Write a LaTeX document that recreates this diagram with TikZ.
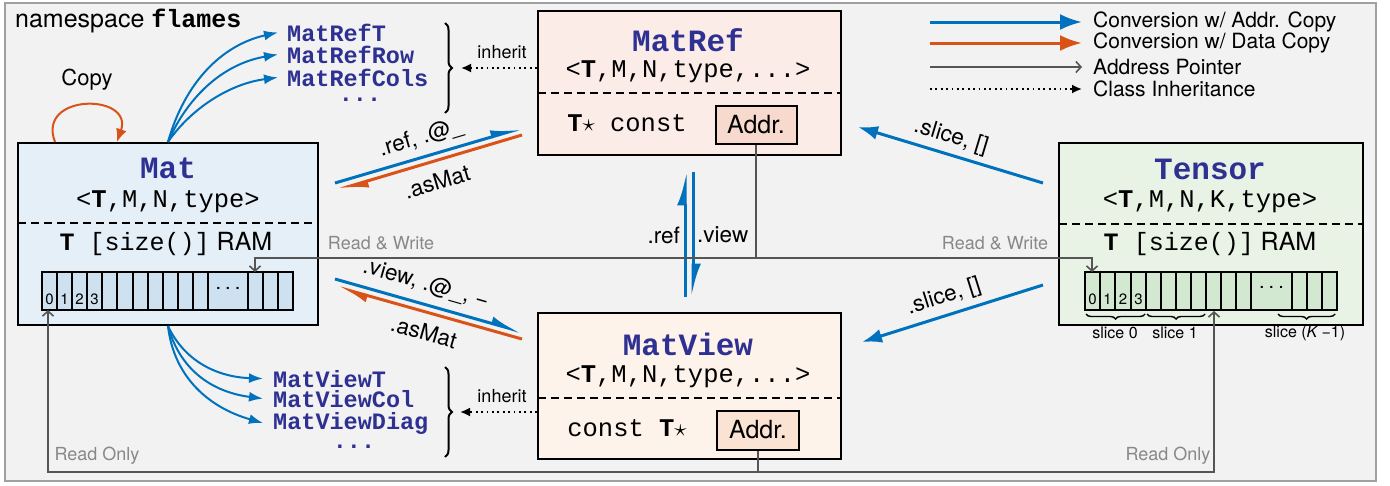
\documentclass[tikz,border=0pt]{standalone}
\usepackage{fontspec}
\setmainfont{TeX Gyre Heros}
\setmonofont{Liberation Mono}
\usetikzlibrary{arrows.meta,decorations.pathreplacing}
\definecolor{cblue}{RGB}{0,114,189}
\definecolor{corange}{RGB}{217,83,25}
\definecolor{cname}{RGB}{46,49,146}
\definecolor{cline}{RGB}{85,85,85}
\definecolor{cgtext}{RGB}{136,136,136}
\definecolor{cbg}{RGB}{242,242,242}
\definecolor{cframe}{RGB}{160,160,160}
\definecolor{matfill}{RGB}{228,239,248}
\definecolor{matcell}{RGB}{205,225,240}
\definecolor{reffill}{RGB}{251,236,232}
\definecolor{refaddr}{RGB}{247,218,205}
\definecolor{viewfill}{RGB}{253,243,234}
\definecolor{viewaddr}{RGB}{251,227,211}
\definecolor{tenfill}{RGB}{232,242,229}
\definecolor{tencell}{RGB}{210,232,208}
\begin{document}
\begin{tikzpicture}[x=1pt,y=-1pt,
  classbox/.style={draw=black, line width=2.2pt, inner sep=0pt, rectangle},
  addrbox/.style={draw=black, line width=2pt, inner sep=0pt, rectangle, font=\fontsize{25}{25}\selectfont},
  ttl/.style={font=\fontsize{31}{31}\selectfont\ttfamily\bfseries, text=cname, inner sep=0pt},
  tmpl/.style={font=\fontsize{25.5}{25.5}\selectfont\ttfamily, inner sep=0pt},
  body/.style={font=\fontsize{25}{25}\selectfont, inner sep=0pt},
  cls/.style={font=\fontsize{23.5}{23.5}\selectfont\ttfamily\bfseries, text=cname, inner sep=0pt},
  convlbl/.style={font=\fontsize{22.5}{22.5}\selectfont, inner sep=0pt},
  leg/.style={font=\fontsize{21}{21}\selectfont, anchor=west, inner sep=0pt},
  graylbl/.style={font=\fontsize{18}{18}\selectfont, text=cgtext, inner sep=0pt},
  smalllbl/.style={font=\fontsize{18}{18}\selectfont, inner sep=0pt},
  slicelbl/.style={font=\fontsize{16}{16}\selectfont, inner sep=0pt},
  digit/.style={font=\fontsize{15}{15}\selectfont, inner sep=0pt},
  celldots/.style={font=\fontsize{20}{20}\selectfont, inner sep=0pt},
  divider/.style={draw=black, line width=2pt, dash pattern=on 8pt off 5pt},
  blueconv/.style={draw=cblue, line width=3pt},
  orangeconv/.style={draw=corange, line width=3pt},
  fullhead/.style={-{Latex[length=20pt,width=14pt]}},
  halfhead/.style={-{Latex[harpoon,length=24pt,width=14pt]}},
  curv/.style={draw=cblue, line width=2pt, -{Latex[length=14pt,width=10pt]}},
  ptr/.style={draw=cline, line width=1.8pt},
  ptrhead/.style={-{Straight Barb[length=5pt,width=11pt,line width=1.6pt]}},
  inh/.style={draw=black, line width=1.8pt, dash pattern=on 1.8pt off 3.6pt, -{Latex[length=10pt,width=9pt]}},
  arr/.style={line width=1.8pt, draw=black},
  brc/.style={draw=black, line width=2pt, decorate, decoration={brace, amplitude=7pt}},
  sbrc/.style={draw=black, line width=1.4pt, decorate, decoration={brace, amplitude=5pt}}
]
\useasboundingbox (0,0) rectangle (1390,485);
% outer frame
\draw[draw=cframe, fill=cbg, line width=2pt] (5,3) rectangle (1376,481);
\node[anchor=base west, inner sep=0pt, font=\fontsize{25}{25}\selectfont] (ns) at (15,27) {namespace {\ttfamily\bfseries flames}};

% ---------------- Mat box
\node[classbox, fill=matfill, minimum width=300pt, minimum height=182pt] (mat) at (168,234) {};
\node[ttl] (matT) at (168,168) {Mat};
\node[tmpl] (matP) at (168,202) {<\textbf{T},M,N,type>};
\draw[divider] (18,223) -- (318,223);
\node[body] (matR) at (166,244) {{\ttfamily\textbf{T} [size()]} RAM};
\draw[arr, fill=matcell] (42,272) rectangle (293,310);
\foreach \x in {57,72,87,102,117,133,148,163,178,193,208,248,263,278} \draw[arr] (\x,272) -- (\x,310);
\foreach \d/\x in {0/49.5,1/64.5,2/79.5,3/94.5} \node[digit] (md\d) at (\x,299) {\d};
\node[celldots] (mdots) at (228,288) {.\hspace{4pt}.\hspace{4pt}.};
\coordinate (matin) at (255,272);
\coordinate (matout) at (48,310);

% ---------------- Tensor box
\node[classbox, fill=tenfill, minimum width=304pt, minimum height=182pt] (ten) at (1211,234) {};
\node[ttl] (tenT) at (1210,169) {Tensor};
\node[tmpl] (tenP) at (1210,202) {<\textbf{T},M,N,K,type>};
\draw[divider] (1059,224) -- (1363,224);
\node[body] (tenR) at (1210,244) {{\ttfamily\textbf{T} [size()]} RAM};
\draw[arr, fill=tencell] (1085,272) rectangle (1337,310);
\foreach \x in {1100,1115,1131,1146,1161,1176,1191,1206,1221,1236,1251,1292,1307,1322} \draw[arr] (\x,272) -- (\x,310);
\foreach \d/\x in {0/1092.5,1/1107.5,2/1123,3/1138.5} \node[digit] (td\d) at (\x,299) {\d};
\node[celldots] (tdots) at (1271.5,287) {.\hspace{4pt}.\hspace{4pt}.};
\draw[sbrc] (1145,314) -- (1086,314);
\draw[sbrc] (1205,314) -- (1147,314);
\draw[sbrc] (1335,314) -- (1278,314);
\node[slicelbl] (sl0) at (1115,333) {slice 0};
\node[slicelbl] (sl1) at (1175,333) {slice 1};
\node[slicelbl] (slK) at (1305,333) {slice (\textit{K}\,−1)};
\coordinate (tenin) at (1092,272);
\coordinate (tenout) at (1214,311);

% ---------------- MatRef box
\node[classbox, fill=reffill, minimum width=303pt, minimum height=144pt] (matref) at (689.5,83) {};
\node[ttl] (refT) at (688,40) {MatRef};
\node[tmpl] (refP) at (688,72) {<\textbf{T},M,N,type,...>};
\draw[divider] (538,93) -- (841,93);
\node[tmpl] (refC) at (627,123) {\textbf{T}$\star$ const};
\node[addrbox, fill=refaddr, minimum width=81pt, minimum height=38pt] (refaddr) at (756,125) {Addr.};

% ---------------- MatView box
\node[classbox, fill=viewfill, minimum width=303pt, minimum height=146pt] (matview) at (689.5,386) {};
\node[ttl] (viewT) at (688,344) {MatView};
\node[tmpl] (viewP) at (688,377) {<\textbf{T},M,N,type,...>};
\draw[divider] (538,398) -- (841,398);
\node[tmpl] (viewC) at (627,428) {const \textbf{T}$\star$};
\node[addrbox, fill=viewaddr, minimum width=82pt, minimum height=39pt] (viewaddr) at (758,430) {Addr.};

% ---------------- derived class lists
\node[cls, anchor=base west] (mrT) at (287,41) {MatRefT};
\node[cls, anchor=base west] (mrR) at (287,63) {MatRefRow};
\node[cls, anchor=base west] (mrC) at (287,86) {MatRefCols};
\node[cls] (mrD) at (360,100) {...};
\node[cls, anchor=base west] (mvT) at (273,387) {MatViewT};
\node[cls, anchor=base west] (mvC) at (273,407) {MatViewCol};
\node[cls, anchor=base west] (mvD) at (273,429) {MatViewDiag};
\node[cls] (mvE) at (354,447) {...};

\draw[curv] (mat.north) .. controls (185,82) and (222,45) .. ([xshift=-9pt]mrT.west);
\draw[curv] (mat.north) .. controls (187,98) and (222,64) .. ([xshift=-9pt]mrR.west);
\draw[curv] (mat.north) .. controls (190,110) and (228,84) .. ([xshift=-9pt]mrC.west);
\draw[curv] (mat.south) .. controls (185,362) and (218,377) .. ([xshift=-10pt]mvT.west);
\draw[curv] (mat.south) .. controls (180,370) and (212,392) .. ([xshift=-10pt]mvC.west);
\draw[curv] (mat.south) .. controls (174,378) and (210,408) .. ([xshift=-10pt]mvD.west);

% braces + inherit
\draw[brc] (445,23) -- (445,113);
\coordinate (refbr) at (461,68);
\draw[inh] (matref.west |- refbr) -- (refbr);
\node[smalllbl] (inh1) at (502,52) {inherit};
\draw[brc] (445,367) -- (445,457);
\coordinate (viewbr) at (460,412);
\draw[inh] (matview.west |- viewbr) -- (viewbr);
\node[smalllbl] (inh2) at (502,396) {inherit};

% copy loop
\draw[corange, line width=2pt, -{Latex[length=13pt,width=11pt]}] ([xshift=-113pt]mat.north) .. controls (36,93) and (134,93) .. ([xshift=-51pt]mat.north);
\node[font=\fontsize{22}{22}\selectfont, inner sep=0pt] (copy) at (87,80) {Copy};

% Mat <-> MatRef
\coordinate (a1) at (335,183); \coordinate (a2) at (522,128);
\coordinate (a3) at (522,135); \coordinate (a4) at (337,190);
\draw[blueconv, halfhead] (a1) -- (a2);
\draw[orangeconv, halfhead] (a3) -- (a4);
\node[convlbl, rotate=16.4] (l1) at (421,138) {.ref, .@\_};
\node[convlbl, rotate=16.4] (l2) at (437,182) {.asMat};

% Mat <-> MatView
\coordinate (b1) at (335,279); \coordinate (b2) at (522,332);
\coordinate (b3) at (522,339); \coordinate (b4) at (337,287);
\draw[blueconv, halfhead] (b1) -- (b2);
\draw[orangeconv, halfhead] (b3) -- (b4);
\node[convlbl, rotate=-16] (l3) at (426,284) {.view, .@\_, −};
\node[convlbl, rotate=-16] (l4) at (424,332) {.asMat};

% MatRef <-> MatView
\coordinate (c1) at (685,297); \coordinate (c2) at (685,172);
\coordinate (c3) at (693,172); \coordinate (c4) at (693,297);
\draw[blueconv, -{Latex[harpoon,length=26pt,width=16pt]}] (c1) -- (c2);
\draw[blueconv, -{Latex[harpoon,length=26pt,width=16pt]}] (c3) -- (c4);
\node[convlbl, anchor=east] (l5) at (680,235) {.ref};
\node[convlbl, anchor=west] (l6) at (697,235) {.view};

% Tensor -> MatRef / MatView
\coordinate (d1) at (1043,183); \coordinate (d2) at (858,127);
\coordinate (d3) at (1043,285); \coordinate (d4) at (862,342);
\draw[blueconv, fullhead] (d1) -- (d2);
\draw[blueconv, fullhead] (d3) -- (d4);
\node[convlbl, rotate=-16.8] (l7) at (951,137) {.slice, []};
\node[convlbl, rotate=17.5] (l8) at (944,297) {.slice, []};

% address pointers
\coordinate (rwj) at (refaddr.south |- 0,258);
\draw[ptr] (refaddr.south) -- (rwj);
\draw[ptr, ptrhead] (rwj) -| (matin);
\draw[ptr, ptrhead] (rwj) -| (tenin);
\node[graylbl] (rw1) at (381,243) {Read \& Write};
\node[graylbl] (rw2) at (995,243) {Read \& Write};
\coordinate (roj) at (viewaddr.south |- 0,472);
\draw[ptr] (viewaddr.south) -- (roj);
\draw[ptr, ptrhead] (roj) -| (matout);
\draw[ptr, ptrhead] (roj) -| (tenout);
\node[graylbl] (ro1) at (97,456) {Read Only};
\node[graylbl] (ro2) at (1168,456) {Read Only};

% legend
\coordinate (g1a) at (930,22); \coordinate (g1b) at (1082,22);
\coordinate (g2a) at (930,43); \coordinate (g2b) at (1082,43);
\coordinate (g3a) at (930,67); \coordinate (g3b) at (1082,67);
\coordinate (g4a) at (930,89); \coordinate (g4b) at (1082,89);
\draw[blueconv, -{Latex[length=22pt,width=16pt]}] (g1a) -- (g1b);
\draw[orangeconv, -{Latex[length=22pt,width=16pt]}] (g2a) -- (g2b);
\draw[ptr, ptrhead] (g3a) -- (g3b);
\draw[inh] (g4a) -- (g4b);
\node[leg] (t1) at (1093,22) {Conversion w/ Addr. Copy};
\node[leg] (t2) at (1093,43) {Conversion w/ Data Copy};
\node[leg] (t3) at (1093,67) {Address Pointer};
\node[leg] (t4) at (1093,89) {Class Inheritance};
\end{tikzpicture}
\end{document}
